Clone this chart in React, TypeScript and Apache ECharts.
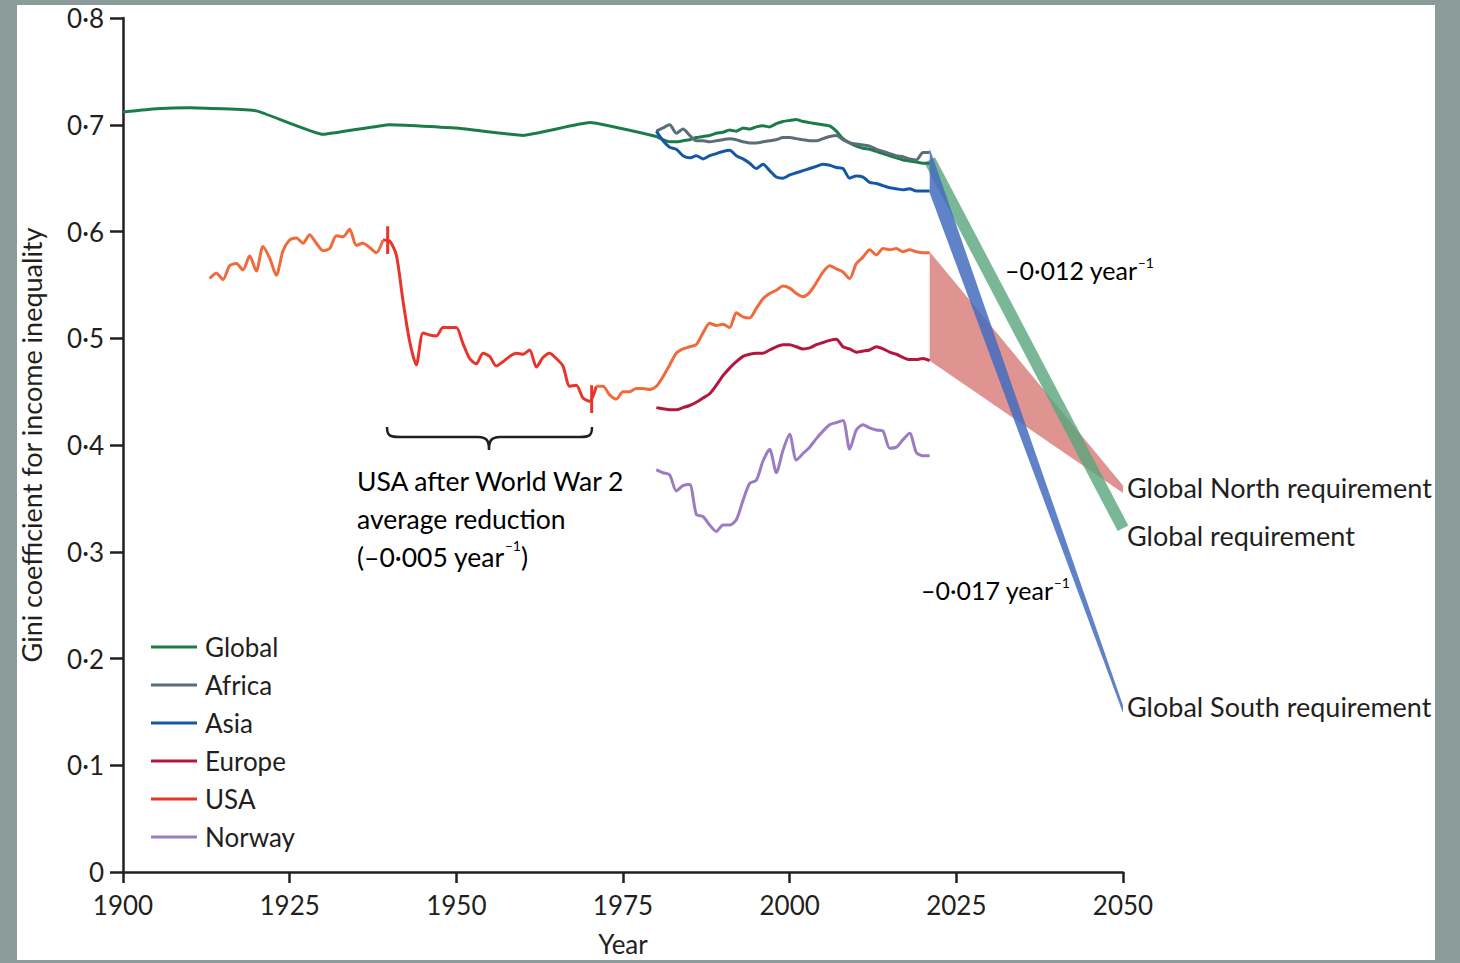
import React, { useEffect, useRef } from 'react';
import * as echarts from 'echarts';

const FONT = 'Lato, "Noto Sans", sans-serif';
const INK = '#231f20';

const xTickLabels = ['1900', '1925', '1950', '1975', '2000', '2025', '2050'];
const yTickLabels = ['0', '0·1', '0·2', '0·3', '0·4', '0·5', '0·6', '0·7', '0·8'];
const legendNames = ['Global', 'Africa', 'Asia', 'Europe', 'USA', 'Norway'];

const globalData = [
  [1900, 0.712], [1905, 0.715], [1910, 0.716], [1920, 0.713], [1930, 0.691], [1940, 0.7],
  [1950, 0.697], [1960, 0.69], [1970, 0.702], [1980, 0.689], [1981, 0.686], [1982, 0.684],
  [1983, 0.684], [1984, 0.685], [1985, 0.686], [1986, 0.688], [1987, 0.689], [1988, 0.69],
  [1989, 0.692], [1990, 0.693], [1991, 0.695], [1992, 0.694], [1993, 0.697], [1994, 0.696],
  [1995, 0.698], [1996, 0.699], [1997, 0.698], [1998, 0.701], [1999, 0.703], [2000, 0.704],
  [2001, 0.705], [2002, 0.703], [2003, 0.702], [2004, 0.701], [2005, 0.7], [2006, 0.699],
  [2007, 0.694], [2008, 0.687], [2009, 0.683], [2010, 0.68], [2011, 0.678], [2012, 0.677],
  [2013, 0.675], [2014, 0.673], [2015, 0.671], [2016, 0.669], [2017, 0.667], [2018, 0.666],
  [2019, 0.665], [2020, 0.664], [2021, 0.664],
];

const africaData = [
  [1980, 0.694], [1981, 0.697], [1982, 0.7], [1983, 0.692], [1984, 0.696], [1985, 0.69],
  [1986, 0.685], [1987, 0.685], [1988, 0.684], [1989, 0.685], [1990, 0.686], [1991, 0.687],
  [1992, 0.686], [1993, 0.684], [1994, 0.683], [1995, 0.683], [1996, 0.684], [1997, 0.685],
  [1998, 0.686], [1999, 0.688], [2000, 0.688], [2001, 0.687], [2002, 0.686], [2003, 0.685],
  [2004, 0.685], [2005, 0.687], [2006, 0.689], [2007, 0.69], [2008, 0.686], [2009, 0.683],
  [2010, 0.682], [2011, 0.681], [2012, 0.68], [2013, 0.677], [2014, 0.675], [2015, 0.673],
  [2016, 0.671], [2017, 0.67], [2018, 0.668], [2019, 0.667], [2020, 0.674], [2021, 0.674],
];

const asiaData = [
  [1980, 0.694], [1981, 0.685], [1982, 0.679], [1983, 0.677], [1984, 0.671], [1985, 0.669],
  [1986, 0.671], [1987, 0.668], [1988, 0.671], [1989, 0.673], [1990, 0.675], [1991, 0.676],
  [1992, 0.671], [1993, 0.668], [1994, 0.664], [1995, 0.659], [1996, 0.663], [1997, 0.657],
  [1998, 0.651], [1999, 0.65], [2000, 0.653], [2001, 0.655], [2002, 0.657], [2003, 0.659],
  [2004, 0.661], [2005, 0.663], [2006, 0.662], [2007, 0.66], [2008, 0.659], [2009, 0.65],
  [2010, 0.652], [2011, 0.651], [2012, 0.646], [2013, 0.645], [2014, 0.643], [2015, 0.641],
  [2016, 0.64], [2017, 0.639], [2018, 0.64], [2019, 0.638], [2020, 0.638], [2021, 0.638],
];

const europeData = [
  [1980, 0.435], [1981, 0.434], [1982, 0.433], [1983, 0.433], [1984, 0.435], [1985, 0.437],
  [1986, 0.44], [1987, 0.444], [1988, 0.448], [1989, 0.456], [1990, 0.465], [1991, 0.472],
  [1992, 0.478], [1993, 0.483], [1994, 0.485], [1995, 0.486], [1996, 0.486], [1997, 0.489],
  [1998, 0.492], [1999, 0.494], [2000, 0.494], [2001, 0.492], [2002, 0.49], [2003, 0.491],
  [2004, 0.494], [2005, 0.496], [2006, 0.498], [2007, 0.499], [2008, 0.492], [2009, 0.49],
  [2010, 0.487], [2011, 0.488], [2012, 0.489], [2013, 0.492], [2014, 0.49], [2015, 0.487],
  [2016, 0.485], [2017, 0.482], [2018, 0.48], [2019, 0.48], [2020, 0.481], [2021, 0.479],
];

const usaEarlyData = [
  [1913, 0.556], [1914, 0.561], [1915, 0.555], [1916, 0.568], [1917, 0.57], [1918, 0.564],
  [1919, 0.577], [1920, 0.563], [1921, 0.586], [1922, 0.575], [1923, 0.559], [1924, 0.582],
  [1925, 0.592], [1926, 0.594], [1927, 0.589], [1928, 0.597], [1929, 0.589], [1930, 0.582],
  [1931, 0.584], [1932, 0.596], [1933, 0.595], [1934, 0.602], [1935, 0.587], [1936, 0.589],
  [1937, 0.585], [1938, 0.58], [1939, 0.592],
];

const usaWarData = [
  [1939, 0.592], [1940, 0.591], [1941, 0.578], [1942, 0.535], [1943, 0.497], [1944, 0.475],
  [1945, 0.505], [1946, 0.503], [1947, 0.502], [1948, 0.51], [1949, 0.51], [1950, 0.51],
  [1951, 0.495], [1952, 0.481], [1953, 0.476], [1954, 0.486], [1955, 0.483], [1956, 0.474],
  [1957, 0.478], [1958, 0.483], [1959, 0.486], [1960, 0.485], [1961, 0.489], [1962, 0.473],
  [1963, 0.482], [1964, 0.486], [1965, 0.481], [1966, 0.474], [1967, 0.455], [1968, 0.456],
  [1969, 0.444], [1970, 0.441], [1971, 0.455],
];

const usaLateData = [
  [1971, 0.455], [1972, 0.455], [1973, 0.447], [1974, 0.443], [1975, 0.45], [1976, 0.45],
  [1977, 0.453], [1978, 0.453], [1979, 0.452], [1980, 0.455], [1981, 0.464], [1982, 0.475],
  [1983, 0.486], [1984, 0.49], [1985, 0.492], [1986, 0.494], [1987, 0.505], [1988, 0.514],
  [1989, 0.512], [1990, 0.513], [1991, 0.51], [1992, 0.524], [1993, 0.52], [1994, 0.519],
  [1995, 0.528], [1996, 0.537], [1997, 0.542], [1998, 0.545], [1999, 0.549], [2000, 0.547],
  [2001, 0.542], [2002, 0.539], [2003, 0.543], [2004, 0.552], [2005, 0.562], [2006, 0.568],
  [2007, 0.565], [2008, 0.562], [2009, 0.556], [2010, 0.57], [2011, 0.576], [2012, 0.583],
  [2013, 0.578], [2014, 0.584], [2015, 0.583], [2016, 0.584], [2017, 0.581], [2018, 0.583],
  [2019, 0.581], [2020, 0.58], [2021, 0.58],
];

const norwayData = [
  [1980, 0.377], [1981, 0.374], [1982, 0.372], [1983, 0.357], [1984, 0.362], [1985, 0.363],
  [1986, 0.335], [1987, 0.333], [1988, 0.325], [1989, 0.319], [1990, 0.325], [1991, 0.325],
  [1992, 0.33], [1993, 0.348], [1994, 0.364], [1995, 0.367], [1996, 0.385], [1997, 0.396],
  [1998, 0.374], [1999, 0.395], [2000, 0.41], [2001, 0.386], [2002, 0.392], [2003, 0.398],
  [2004, 0.406], [2005, 0.413], [2006, 0.419], [2007, 0.421], [2008, 0.423], [2009, 0.396],
  [2010, 0.414], [2011, 0.419], [2012, 0.416], [2013, 0.414], [2014, 0.413], [2015, 0.397],
  [2016, 0.398], [2017, 0.405], [2018, 0.411], [2019, 0.393], [2020, 0.39], [2021, 0.39],
];

const usaTick1940 = [[1939.7, 0.579], [1939.7, 0.605]];
const usaTick1970 = [[1970.3, 0.43], [1970.3, 0.456]];

const northBand = [[2021, 0.581], [2050, 0.362], [2050, 0.355], [2021, 0.479]];
const southBand = [[2021, 0.678], [2050, 0.156], [2050, 0.149], [2021, 0.636]];
const globalReqLine = [[2021, 0.667], [2050, 0.322]];

const COLORS = {
  Global: '#1b7c47',
  Africa: '#5b6d76',
  Asia: '#1557a6',
  Europe: '#b1173f',
  USA: '#e8352a',
  USAorange: '#f06a3c',
  Norway: '#9b7cc3',
};

echarts.graphic.registerShape(
  'brace',
  echarts.graphic.extendPath(
    'M387,427 C387,436 390,437 400,437 L478,437 C487,437 489,441 489,450 C489,441 491,437 500,437 L580,437 C589,437 592,436 592,427',
    {}
  )
);

function lineSeries(name: string, data: number[][], color: string, smooth: number = 0.25, width = 3) {
  return {
    name,
    type: 'line',
    data,
    color,
    smooth,
    showSymbol: false,
    symbol: 'none',
    lineStyle: { color, width },
    emphasis: { disabled: true },
    z: 5,
  };
}

function bandSeries(name: string, pts: number[][], fill: string, z: number) {
  return {
    name,
    type: 'custom',
    coordinateSystem: 'cartesian2d',
    data: pts,
    clip: false,
    silent: true,
    z,
    renderItem: (params: any, api: any) => {
      if (params.dataIndex !== 0) return null;
      return {
        type: 'polygon',
        shape: { points: pts.map((p) => api.coord(p)) },
        style: { fill },
      };
    },
  };
}

const sup = { fontSize: 14, fontFamily: FONT, color: INK, verticalAlign: 'top', lineHeight: 30 } as any;
const norm = { fontSize: 25, fontFamily: FONT, color: INK, lineHeight: 30 } as any;

function label(x: number, y: number, text: string) {
  return {
    type: 'text',
    x,
    y,
    z: 50,
    style: {
      text,
      fill: INK,
      fontSize: 27,
      fontFamily: FONT,
      verticalAlign: 'middle',
      align: 'left',
    },
  };
}

export default function App() {
  const ref = useRef<HTMLDivElement>(null);

  useEffect(() => {
    if (!ref.current) return;
    const chart = echarts.init(ref.current, null, { renderer: 'svg' });
    const option: any = {
      animation: false,
      backgroundColor: '#8b9b9a',
      grid: { left: 123, right: 337, top: 18, bottom: 91, containLabel: false, outerBoundsMode: 'none' },
      legend: {
        data: legendNames,
        orient: 'vertical',
        left: 146,
        top: 627,
        icon: 'rect',
        itemWidth: 46,
        itemHeight: 3,
        itemGap: 8,
        selectedMode: false,
        textStyle: { fontFamily: FONT, fontSize: 26, color: INK, lineHeight: 30, padding: [0, 0, 0, 3] },
      },
      xAxis: {
        type: 'value',
        min: 1900,
        max: 2050,
        interval: 25,
        name: 'Year',
        nameLocation: 'middle',
        nameGap: 59,
        nameTextStyle: { fontFamily: FONT, fontSize: 26, color: INK },
        axisLine: { show: true, onZero: false, lineStyle: { color: INK, width: 2.5 } },
        axisTick: { show: true, length: 11, lineStyle: { color: INK, width: 2.5 } },
        axisLabel: {
          fontFamily: FONT,
          fontSize: 26,
          color: INK,
          margin: 20,
          formatter: (v: number) => xTickLabels[Math.round((v - 1900) / 25)],
        },
        splitLine: { show: false },
      },
      yAxis: {
        type: 'value',
        min: 0,
        max: 0.8,
        interval: 0.1,
        name: 'Gini coefficient for income inequality',
        nameLocation: 'middle',
        nameGap: 78,
        nameTextStyle: { fontFamily: FONT, fontSize: 27, color: INK },
        axisLine: { show: true, onZero: false, lineStyle: { color: INK, width: 2.5 } },
        axisTick: { show: true, length: 13, lineStyle: { color: INK, width: 2.5 } },
        axisLabel: {
          fontFamily: FONT,
          fontSize: 26,
          color: INK,
          margin: 19,
          formatter: (v: number) => yTickLabels[Math.round(v * 10)],
        },
        splitLine: { show: false },
      },
      series: [
        bandSeries('Global North band', northBand, 'rgba(204,82,78,0.62)', 2),
        {
          name: 'Global requirement line',
          type: 'line',
          data: globalReqLine,
          showSymbol: false,
          symbol: 'none',
          lineStyle: { color: 'rgba(88,165,124,0.8)', width: 12, cap: 'butt' },
          emphasis: { disabled: true },
          silent: true,
          z: 3,
        },
        bandSeries('Global South band', southBand, 'rgba(68,108,190,0.85)', 4),
        lineSeries('Global', globalData, COLORS.Global, 0.1),
        lineSeries('Africa', africaData, COLORS.Africa),
        lineSeries('Asia', asiaData, COLORS.Asia),
        lineSeries('Europe', europeData, COLORS.Europe),
        lineSeries('USA', usaWarData, COLORS.USA),
        lineSeries('USA early', usaEarlyData, COLORS.USAorange),
        lineSeries('USA late', usaLateData, COLORS.USAorange),
        lineSeries('Norway', norwayData, COLORS.Norway),
        lineSeries('USA mark 1940', usaTick1940, COLORS.USA, 0, 3),
        lineSeries('USA mark 1970', usaTick1970, COLORS.USA, 0, 3),
      ],
      graphic: [
        { type: 'rect', z: -10, shape: { x: 17, y: 5, width: 1418, height: 955 }, style: { fill: '#ffffff' } },
        { type: 'brace', x: 0, y: 0, z: 50, style: { fill: 'none', stroke: INK, lineWidth: 2.5 } },
        {
          type: 'text',
          x: 357,
          y: 462,
          z: 50,
          style: {
            text: '{n|USA after World War 2}\n{n|average reduction}\n{n|(–0·005 year}{s|–1}{n|)}',
            rich: { n: { ...norm, fontSize: 26.5, lineHeight: 38 }, s: { ...sup, lineHeight: 38 } },
            align: 'left',
            verticalAlign: 'top',
          },
        },
        {
          type: 'text',
          x: 1005,
          y: 270,
          z: 50,
          style: {
            text: '{n|–0·012 year}{s|–1}',
            rich: { n: norm, s: sup },
            align: 'left',
            verticalAlign: 'middle',
          },
        },
        {
          type: 'text',
          x: 921,
          y: 590,
          z: 50,
          style: {
            text: '{n|–0·017 year}{s|–1}',
            rich: { n: norm, s: sup },
            align: 'left',
            verticalAlign: 'middle',
          },
        },
        label(1127, 487, 'Global North requirement'),
        label(1127, 535, 'Global requirement'),
        label(1127, 706, 'Global South requirement'),
        { type: 'rect', z: 200, shape: { x: 1435, y: 0, width: 25, height: 963 }, style: { fill: '#8b9b9a' } },
        { type: 'rect', z: 200, shape: { x: 0, y: 960, width: 1460, height: 3 }, style: { fill: '#8b9b9a' } },
      ],
    };
    chart.setOption(option);
    return () => chart.dispose();
  }, []);

  return (
    <div
      ref={ref}
      style={{ position: 'absolute', left: 0, top: 0, width: 1460, height: 963 }}
    />
  );
}
